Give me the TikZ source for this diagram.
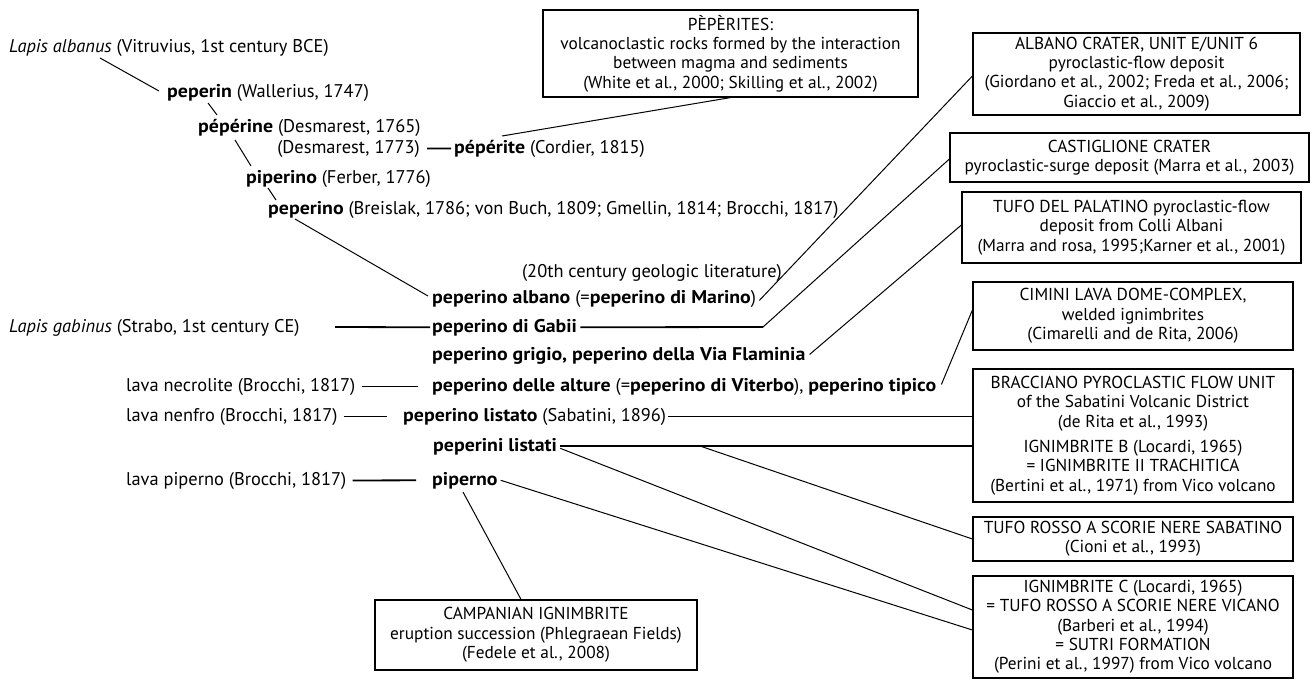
\documentclass[tikz,border=0pt]{standalone}
\usepackage{fontspec}
\setmainfont{PT Sans}[BoldFeatures={FakeStretch=1.08}]
\usetikzlibrary{calc}
\newcommand\myfs{\fontsize{17.3}{19.3}\selectfont}
\newcommand\leftfs{\fontsize{18.4}{22}\selectfont}
\begin{document}
\begin{tikzpicture}[x=1pt,y=-1pt,
  txt/.style={inner sep=0pt, font=\leftfs},
  boxnode/.style={draw, line width=1.2pt, inner sep=0pt, align=center, font=\myfs},
  thinl/.style={line width=1pt},
  thickl/.style={line width=1.8pt}]
\useasboundingbox[fill=white] (0,0) rectangle (1316,680);

% ---------- left column texts ----------
\node[txt, anchor=base west] (lapalb) at (9,52) {\textit{Lapis albanus} (Vitruvius, 1st century BCE)};
\node[txt, anchor=base west] (peperin) at (167,97) {\textbf{peperin} (Wallerius, 1747)};
\node[txt, anchor=base west] (peperine) at (198,132) {\textbf{pépérine} (Desmarest, 1765)};
\node[txt, anchor=base east] (desm) at (420,153) {(Desmarest, 1773)};
\node[txt, anchor=base west] (peperite) at (454,153) {\textbf{pépérite} (Cordier, 1815)};
\node[txt, anchor=base west] (piperino) at (246,183) {\textbf{piperino} (Ferber, 1776)};
\node[txt, anchor=base west] (peperino) at (268,214) {\textbf{peperino} (Breislak, 1786; von Buch, 1809; Gmellin, 1814; Brocchi, 1817)};
\node[txt, anchor=base east] (lit) at (782,277) {(20th century geologic literature)};
\node[txt, anchor=base west] (albano) at (432,303) {\textbf{peperino albano} (=\textbf{peperino di Marino})};
\node[txt, anchor=base west] (lapgab) at (9,332) {\textit{Lapis gabinus} (Strabo, 1st century CE)};
\node[txt, anchor=base west] (gabii) at (432,332) {\textbf{peperino di Gabii}};
\node[txt, anchor=base west] (grigio) at (432,360) {\textbf{peperino grigio, peperino della Via Flaminia}};
\node[txt, anchor=base west] (necro) at (126,391) {lava necrolite (Brocchi, 1817)};
\node[txt, anchor=base west] (alture) at (432,391) {\textbf{peperino delle alture} (=\textbf{peperino di Viterbo}), \textbf{peperino tipico}};
\node[txt, anchor=base west] (nenfro) at (126,421) {lava nenfro (Brocchi, 1817)};
\node[txt, anchor=base west] (listato) at (403,421) {\textbf{peperino listato} (Sabatini, 1896)};
\node[txt, anchor=base west] (listati) at (433,451) {\textbf{peperini listati}};
\node[txt, anchor=base west] (lavapip) at (126,485) {lava piperno (Brocchi, 1817)};
\node[txt, anchor=base west] (piperno) at (432,485) {\textbf{piperno}};

% ---------- boxes ----------
\node[boxnode, minimum width=375pt, minimum height=87pt] (pep) at (730.5,53.5)
  {PÈPÈRITES:\\volcanoclastic rocks formed by the interaction\\between magma and sediments\\(White et al., 2000; Skilling et al., 2002)};
\node[boxnode, minimum width=327pt, minimum height=82pt] (alb) at (1136.5,74)
  {ALBANO CRATER, UNIT E/UNIT 6\\pyroclastic-flow deposit\\(Giordano et al., 2002; Freda et al., 2006;\\Giaccio et al., 2009)};
\node[boxnode, minimum width=359pt, minimum height=49pt] (cas) at (1129.5,157.5)
  {CASTIGLIONE CRATER\\pyroclastic-surge deposit (Marra et al., 2003)};
\node[boxnode, minimum width=339pt, minimum height=71pt] (pal) at (1131.5,227.5)
  {TUFO DEL PALATINO pyroclastic-flow\\deposit from Colli Albani\\(Marra and rosa, 1995;Karner et al., 2001)};
\node[boxnode, minimum width=320pt, minimum height=68pt] (cim) at (1133,316)
  {CIMINI LAVA DOME-COMPLEX,\\welded ignimbrites\\(Cimarelli and de Rita, 2006)};
\node[boxnode, minimum width=320pt, minimum height=133pt] (bra) at (1133,435.5)
  {BRACCIANO PYROCLASTIC FLOW UNIT\\of the Sabatini Volcanic District\\(de Rita et al., 1993)\\[6pt]IGNIMBRITE B (Locardi, 1965)\\= IGNIMBRITE II TRACHITICA\\(Bertini et al., 1971) from Vico volcano};
\node[boxnode, minimum width=320pt, minimum height=44pt] (tuf) at (1133,539)
  {TUFO ROSSO A SCORIE NERE SABATINO\\(Cioni et al., 1993)};
\node[boxnode, minimum width=320pt, minimum height=102pt] (ign) at (1133,627)
  {IGNIMBRITE C (Locardi, 1965)\\= TUFO ROSSO A SCORIE NERE VICANO\\(Barberi et al., 1994)\\= SUTRI FORMATION\\(Perini et al., 1997) from Vico volcano};
\node[boxnode, minimum width=322pt, minimum height=70pt] (cam) at (536,635)
  {CAMPANIAN IGNIMBRITE\\eruption succession (Phlegraean Fields)\\(Fedele et al., 2008)};

% ---------- connector end points ----------
\coordinate (a1) at (100,58);  \coordinate (a2) at (159,91);
\coordinate (b1) at (208,103); \coordinate (b2) at (217,115);
\coordinate (c1) at (235,140); \coordinate (c2) at (251,166);
\coordinate (d1) at (268,188); \coordinate (d2) at (276,200);
\coordinate (e1) at (295,219); \coordinate (e2) at (428,296);
\coordinate (f1) at (502,136);
\coordinate (h0) at (335,327); \coordinate (h1) at (763,327);
\coordinate (k0) at (700,446);
\coordinate (p2) at (463,492);

% ---------- connectors ----------
\draw[thinl] (a1) -- (a2);
\draw[thinl] (b1) -- (b2);
\draw[thinl] (c1) -- (c2);
\draw[thinl] (d1) -- (d2);
\draw[thinl] (e1) -- (e2);
\draw[thickl] ($(desm.east)+(7,0)$) -- ($(peperite.west)+(-3,0)$);
\draw[thinl] (f1) -- (pep.south);
\draw[thinl] ($(albano.east)+(3,2)$) -- ($(alb.west)+(0,2)$);
\draw[thickl] (h0) -- ($(gabii.west)+(-2,0)$);
\draw[thickl] ($(gabii.east)+(3,0)$) -- (h1);
\draw[thinl] (h1) -- ($(cas.west)+(0,1.5)$);
\draw[thinl] ($(grigio.east)+(4,-1)$) -- ($(pal.west)+(0,-2.5)$);
\draw[thinl] ($(alture.east)+(5,-2)$) -- ($(cim.west)+(0,-6)$);
\draw[thickl] ($(necro.east)+(6,0)$) -- ($(alture.west)+(-14,0)$);
\draw[thickl] ($(nenfro.east)+(6,0)$) -- ($(listato.west)+(-16,0)$);
\draw[thickl] ($(listato.east)+(2,0)$) -- ($(listato.east -| bra.west)$);
\draw[thickl] ($(listati.east)+(3,0)$) -- ($(listati.east -| bra.west)$);
\draw[thinl] (k0) -- (tuf.west);
\draw[thinl] ($(listati.east)+(3,2)$) -- ($(ign.west)+(0,-17)$);
\draw[thickl] ($(lavapip.east)+(6,0)$) -- ($(piperno.west)+(-16,0)$);
\draw[thinl] ($(piperno.east)+(3,0)$) -- ($(ign.west)+(0,3)$);
\draw[thinl] (p2) -- ($(cam.north)+(-15,0)$);
\end{tikzpicture}
\end{document}
